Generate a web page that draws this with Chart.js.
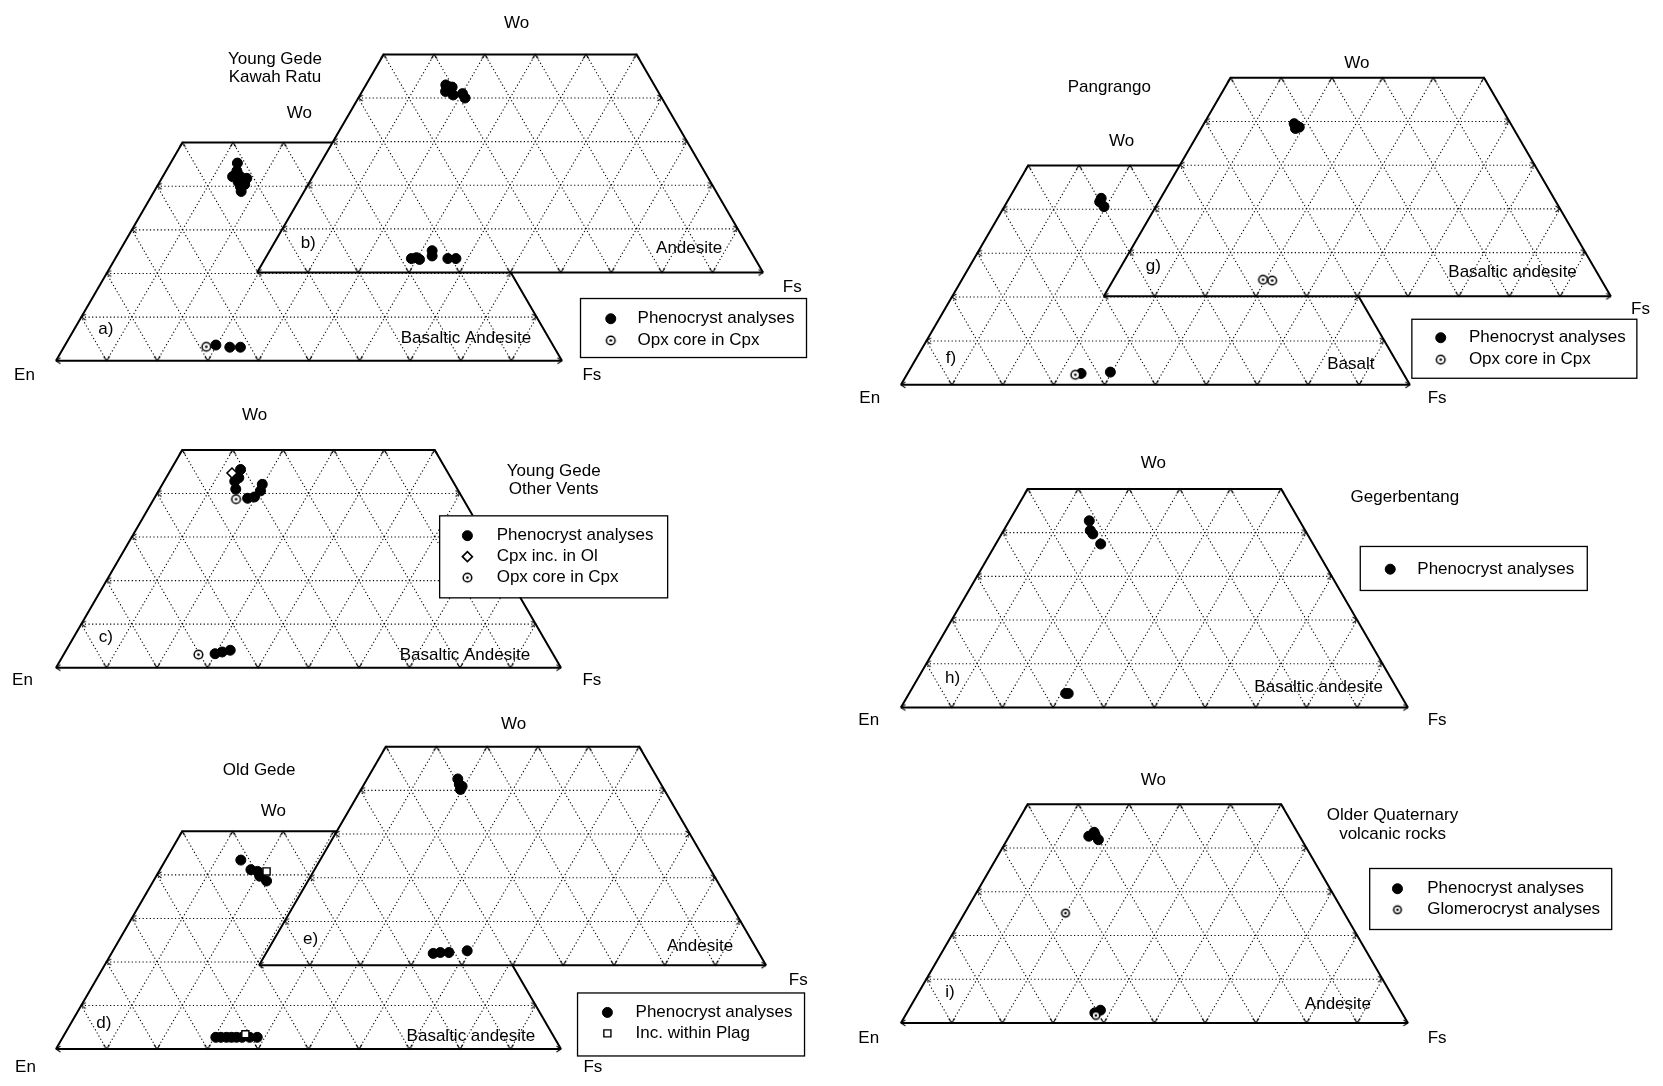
<!DOCTYPE html>
<html lang="en">
<head>
<meta charset="UTF-8">
<title>Pyroxene quadrilaterals</title>
<script src="https://cdn.jsdelivr.net/npm/chart.js@4"></script>
<style>
  body { margin: 0; background: #fff; }
  #wrap { width: 1663px; height: 1086px; }
</style>
</head>
<body>
<div id="wrap"><canvas id="chart" width="1663" height="1086"></canvas></div>
<script>
// grid values, mol %
const gridTicks = [10, 20, 30, 40, 50, 60, 70, 80, 90];
const woLevels = [10, 20, 30, 40];
const topTicks = [10, 20, 30, 40];
const woTop = 50;

// analyses as [Wo, Fs] in mol %
const aPheno = [[45.3, 13.2], [43.5, 14.0], [42.5, 14.1], [42.2, 13.8], [42.3, 15.2], [41.0, 15.5], [41.8, 16.8], [40.4, 17.1], [39.9, 16.5], [38.8, 17.2], [3.6, 29.8], [3.1, 32.8], [3.1, 34.9]];
const aOpxCore = [[3.2, 28.1]];
const bPheno = [[43.0, 15.8], [42.5, 17.3], [41.5, 16.5], [40.7, 18.4], [41.0, 20.1], [40.0, 21.1], [3.2, 28.9], [3.4, 29.8], [3.0, 30.6], [5.0, 32.1], [3.8, 32.7], [3.2, 36.1], [3.2, 37.7]];
const cPheno = [[45.5, 13.8], [43.6, 14.4], [42.8, 14.0], [41.0, 15.1], [38.9, 18.5], [39.2, 19.7], [40.6, 20.2], [42.1, 19.8], [3.2, 29.9], [3.6, 31.1], [4.0, 32.5]];
const cCpxInOl = [[44.7, 12.5]];
const cOpxCore = [[38.7, 16.3], [3.0, 26.7]];
const dPheno = [[43.4, 14.9], [41.2, 18.0], [40.8, 19.5], [39.7, 20.5], [38.6, 22.4], [2.7, 30.3], [2.7, 31.3], [2.7, 32.4], [2.7, 33.4], [2.7, 34.4], [2.7, 35.5], [2.7, 37.0], [2.7, 38.5]];
const dInPlag = [[40.8, 21.3], [3.4, 35.8]];
const ePheno = [[42.6, 17.9], [41.4, 18.8], [40.9, 19.6], [40.2, 19.6], [2.7, 33.0], [2.9, 34.3], [2.9, 36.0], [3.3, 39.4]];
const fPheno = [[42.5, 18.1], [41.7, 18.2], [40.6, 19.6], [2.6, 34.1], [2.9, 39.7]];
const fOpxCore = [[2.3, 33.1]];
const gPheno = [[39.5, 17.8], [38.7, 19.2], [38.4, 18.6]];
const gOpxCore = [[3.8, 29.5], [3.6, 31.4]];
const hPheno = [[42.7, 15.8], [40.5, 17.1], [39.7, 18.0], [37.4, 20.7], [3.2, 30.9], [3.2, 31.4]];
const iPheno = [[42.7, 15.7], [43.6, 16.3], [43.0, 16.8], [41.9, 18.0], [2.3, 37.1], [2.9, 37.9]];
const iGlomero = [[25.1, 19.9], [1.7, 37.6]];

// text
const endMembers = ['En', 'Fs', 'Wo'];
const panelTags = ['a)', 'b)', 'c)', 'd)', 'e)', 'f)', 'g)', 'h)', 'i)'];
const rockTypes = ['Basaltic Andesite', 'Andesite', 'Basaltic Andesite', 'Basaltic andesite', 'Andesite', 'Basalt', 'Basaltic andesite', 'Basaltic andesite', 'Andesite'];
const groupTitles = ['Young Gede', 'Kawah Ratu', 'Young Gede', 'Other Vents', 'Old Gede', 'Pangrango', 'Gegerbentang', 'Older Quaternary', 'volcanic rocks'];
const legendA = ['Phenocryst analyses', 'Opx core in Cpx'];
const legendC = ['Phenocryst analyses', 'Cpx inc. in Ol', 'Opx core in Cpx'];
const legendD = ['Phenocryst analyses', 'Inc. within Plag'];
const legendF = ['Phenocryst analyses', 'Opx core in Cpx'];
const legendH = ['Phenocryst analyses'];
const legendI = ['Phenocryst analyses', 'Glomerocryst analyses'];

// layout (page pixels): En corner, base y, base width, label spots
const W = 1663, H = 1086;
const panels = [
  { x0: 49.8, y0: 358.5, w: 510, en: [18, 373], fs: [590, 373], wo: [295, 108], tag: [100, 327], rock: [463, 336],
    series: [[aPheno, 'pheno'], [aOpxCore, 'core']] },
  { x0: 252.5, y0: 269.2, w: 510, en: null, fs: [792, 284], wo: [514, 17], tag: [304, 240], rock: [688, 245],
    series: [[bPheno, 'pheno']] },
  { x0: 49.8, y0: 669.2, w: 509, en: [16, 682], fs: [590, 682], wo: [250, 414], tag: [100, 638.5], rock: [462, 656.5],
    series: [[cPheno, 'pheno'], [cCpxInOl, 'diamond'], [cOpxCore, 'core']] },
  { x0: 49.8, y0: 1055.3, w: 509, en: [19, 1074], fs: [591, 1074], wo: [269, 814.5], tag: [98, 1029], rock: [468, 1042.6],
    series: [[dPheno, 'pheno'], [dInPlag, 'square']] },
  { x0: 254.5, y0: 970.4, w: 511, en: null, fs: [798, 986], wo: [511, 726.5], tag: [306.5, 944], rock: [699, 951.4],
    series: [[ePheno, 'pheno']] },
  { x0: 901.5, y0: 382.9, w: 513, en: [870, 397], fs: [1442, 397], wo: [1124, 136], tag: [952, 356], rock: [1355, 362],
    series: [[fPheno, 'pheno'], [fOpxCore, 'core']] },
  { x0: 1106, y0: 293.3, w: 511, en: null, fs: [1647, 306.5], wo: [1361, 57], tag: [1156, 263], rock: [1518, 269.4],
    series: [[gPheno, 'pheno'], [gOpxCore, 'core']] },
  { x0: 901.5, y0: 709.5, w: 511, en: [869, 723], fs: [1442, 723], wo: [1156, 462], tag: [953.5, 680], rock: [1322.5, 689.4],
    series: [[hPheno, 'pheno']] },
  { x0: 901.5, y0: 1028.8, w: 511, en: [869, 1044], fs: [1442, 1044], wo: [1156, 783], tag: [951, 998], rock: [1342, 1010],
    series: [[iPheno, 'pheno'], [iGlomero, 'glomero']] }
];
const titleSpots = [[270.5, 53], [270.5, 72], [551.5, 470], [551.5, 489], [254.5, 773], [1111.5, 82], [1409.5, 497], [1397, 819], [1397, 838]];
const legends = [
  { box: [578, 295, 226, 59], mx: 609, tx: 636, rows: [316, 338], labels: legendA, kinds: ['pheno', 'core'] },
  { box: [436, 515, 228, 82], mx: 464.5, tx: 494, rows: [535.6, 556.8, 578], labels: legendC, kinds: ['pheno', 'diamond', 'core'] },
  { box: [575, 998, 227, 63], mx: 605.6, tx: 634, rows: [1018.2, 1039.4], labels: legendD, kinds: ['pheno', 'square'] },
  { box: [1416, 316, 225, 59], mx: 1445.6, tx: 1474, rows: [335.2, 357.4], labels: legendF, kinds: ['pheno', 'core'] },
  { box: [1364, 546, 227, 44], mx: 1394.7, tx: 1422, rows: [569.5], labels: legendH, kinds: ['pheno'] },
  { box: [1373.5, 872, 242, 61], mx: 1402, tx: 1432, rows: [893, 914.2], labels: legendI, kinds: ['pheno', 'glomero'] }
];

const FONT = '"Liberation Sans", Arial, sans-serif';
const SQ3 = Math.sqrt(3) / 2;
const GAP = { x: null, y: null };

// ternary (Wo, Fs) -> page position of a panel
function pt(p, wo, fs) {
  return { x: p.x0 + p.w * (fs + wo / 2) / 100, y: p.y0 - p.w * SQ3 * wo / 100 };
}

function chevron() {
  const c = document.createElement('canvas');
  c.width = 12; c.height = 12;
  const g = c.getContext('2d');
  g.strokeStyle = '#000'; g.lineWidth = 1.2;
  g.beginPath(); g.moveTo(3, 1.5); g.lineTo(6, 6); g.lineTo(9, 1.5); g.stroke();
  return c;
}

function ringDot(r) {
  const s = Math.ceil(r * 2 + 4);
  const c = document.createElement('canvas');
  c.width = s; c.height = s;
  const g = c.getContext('2d');
  g.fillStyle = '#fff';
  g.beginPath(); g.arc(s / 2, s / 2, r, 0, Math.PI * 2); g.fill();
  g.strokeStyle = '#000'; g.lineWidth = 1.5; g.stroke();
  g.fillStyle = '#000';
  g.beginPath(); g.arc(s / 2, s / 2, 1.3, 0, Math.PI * 2); g.fill();
  return c;
}

const chev = chevron();
const markerStyles = {
  pheno: { pointStyle: 'circle', pointRadius: 5, pointBackgroundColor: '#000', pointBorderColor: '#000', pointBorderWidth: 1 },
  core: { pointStyle: ringDot(4.3), pointRadius: 4 },
  glomero: { pointStyle: ringDot(3.8), pointRadius: 4 },
  diamond: { pointStyle: 'rectRot', pointRadius: 5, pointBackgroundColor: '#fff', pointBorderColor: '#000', pointBorderWidth: 1.6 },
  square: { pointStyle: 'rect', pointRadius: 5, pointBackgroundColor: '#fff', pointBorderColor: '#000', pointBorderWidth: 1.4 }
};

const datasets = [];
panels.forEach(p => {
  // white body with left, top and right edges
  datasets.push({
    data: [pt(p, 0, 0), pt(p, woTop, 0), pt(p, woTop, 100 - woTop), pt(p, 0, 100)],
    borderColor: '#000', borderWidth: 2, pointRadius: 0,
    fill: { value: p.y0 }, backgroundColor: '#fff'
  });
  // dotted grid
  const g = [];
  woLevels.forEach(w => g.push(pt(p, w, 0), pt(p, w, 100 - w), GAP));
  gridTicks.forEach(f => {
    const top = Math.min(woTop, 100 - f);
    g.push(pt(p, 0, f), pt(p, top, f), GAP);
  });
  gridTicks.forEach(e => {
    const top = Math.min(woTop, 100 - e);
    g.push(pt(p, 0, 100 - e), pt(p, top, 100 - e - top), GAP);
  });
  datasets.push({ data: g, borderColor: '#000', borderWidth: 1.1, borderDash: [1.2, 2.4], pointRadius: 0, spanGaps: false });
  // base En-Fs
  datasets.push({ data: [pt(p, 0, 0), pt(p, 0, 100)], borderColor: '#000', borderWidth: 2, pointRadius: 0 });
  // arrow ticks where grid meets the frame
  const ch = [], rot = [];
  gridTicks.forEach(f => { ch.push(pt(p, 0, f)); rot.push(0); });
  woLevels.forEach(w => {
    ch.push(pt(p, w, 0)); rot.push(90);
    ch.push(pt(p, w, 100 - w)); rot.push(-90);
  });
  topTicks.forEach(f => { ch.push(pt(p, woTop, f)); rot.push(180); });
  ch.push(pt(p, 0, 0), pt(p, 0, 100), pt(p, woTop, 0), pt(p, woTop, 100 - woTop));
  rot.push(90, -90, 180, 180);
  datasets.push({ data: ch, showLine: false, pointStyle: chev, pointRadius: 3, pointRotation: rot });
  // analyses
  p.series.forEach(([arr, kind]) => {
    datasets.push(Object.assign({ data: arr.map(([w, f]) => pt(p, w, f)), showLine: false }, markerStyles[kind]));
  });
});
datasets.forEach((d, i) => { d.order = -i; d.tension = 0; });

function drawMarker(ctx, kind, x, y) {
  const s = markerStyles[kind];
  ctx.save();
  ctx.fillStyle = s.pointBackgroundColor || '#000';
  ctx.strokeStyle = '#000';
  ctx.lineWidth = s.pointBorderWidth || 1;
  Chart.helpers.drawPoint(ctx, { pointStyle: s.pointStyle, radius: s.pointRadius, rotation: 0, borderWidth: ctx.lineWidth }, x, y);
  ctx.restore();
}

const textPlugin = {
  id: 'panelText',
  afterDatasetsDraw(chart) {
    const { ctx } = chart;
    const X = v => chart.scales.x.getPixelForValue(v);
    const Y = v => chart.scales.y.getPixelForValue(v);
    ctx.save();
    ctx.fillStyle = '#000';
    ctx.textBaseline = 'middle';
    ctx.textAlign = 'center';
    ctx.font = '17px ' + FONT;
    panels.forEach((p, i) => {
      if (p.en) ctx.fillText(endMembers[0], X(p.en[0]), Y(p.en[1]));
      ctx.fillText(endMembers[1], X(p.fs[0]), Y(p.fs[1]));
      ctx.fillText(endMembers[2], X(p.wo[0]), Y(p.wo[1]));
      ctx.fillText(panelTags[i], X(p.tag[0]), Y(p.tag[1]));
      ctx.fillText(rockTypes[i], X(p.rock[0]), Y(p.rock[1]));
    });
    groupTitles.forEach((t, i) => ctx.fillText(t, X(titleSpots[i][0]), Y(titleSpots[i][1])));
    legends.forEach(L => {
      const [bx, by, bw, bh] = L.box;
      ctx.fillStyle = '#fff';
      ctx.fillRect(X(bx), Y(by), bw, bh);
      ctx.strokeStyle = '#000';
      ctx.lineWidth = 1.3;
      ctx.strokeRect(X(bx) + 0.5, Y(by) + 0.5, bw, bh);
      ctx.textAlign = 'left';
      L.labels.forEach((t, k) => {
        drawMarker(ctx, L.kinds[k], X(L.mx), Y(L.rows[k]));
        ctx.fillStyle = '#000';
        ctx.fillText(t, X(L.tx), Y(L.rows[k]));
      });
      ctx.textAlign = 'center';
    });
    ctx.restore();
  }
};

new Chart(document.getElementById('chart'), {
  type: 'line',
  data: { datasets },
  options: {
    responsive: false,
    animation: false,
    devicePixelRatio: 1,
    events: [],
    layout: { padding: 0 },
    scales: {
      x: { type: 'linear', min: 0, max: W, display: false },
      y: { type: 'linear', min: 0, max: H, reverse: true, display: false }
    },
    plugins: { legend: { display: false }, tooltip: { enabled: false } }
  },
  plugins: [textPlugin]
});
</script>
</body>
</html>
